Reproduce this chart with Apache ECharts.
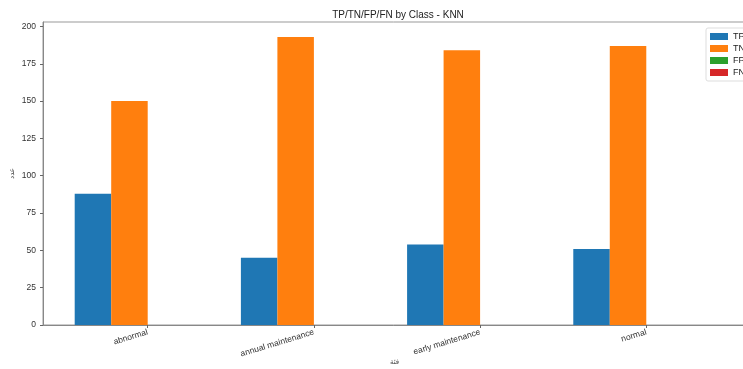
<!DOCTYPE html>
<html><head><meta charset="utf-8">
<script src="https://cdn.jsdelivr.net/npm/echarts@6/dist/echarts.min.js"></script>
<style>html,body{margin:0;padding:0;background:#fff}#c{width:743px;height:369px}</style>
</head><body><div id="c"></div>
<script>
const categories = ['abnormal', 'annual maintenance', 'early maintenance', 'normal'];
const seriesNames = ['TP', 'TN', 'FP', 'FN'];
const tp = [88, 45, 54, 51];
const tn = [150, 193, 184, 187];
const fp = [0, 0, 0, 0];
const fn = [0, 0, 0, 0];
const yTicks = [0, 25, 50, 75, 100, 125, 150, 175, 200];
const colors = ['#1f77b4', '#ff7f0e', '#2ca02c', '#d62728'];
const values = [tp, tn, fp, fn];
const idx = categories.map((_, i) => i);
const font = 'Liberation Sans, Arial, sans-serif';
const chart = echarts.init(document.getElementById('c'));
chart.setOption({
  animation: false,
  title: { text: 'TP/TN/FP/FN by Class - KNN', left: 393, top: 5, textAlign: 'center',
    textStyle: { fontSize: 10, fontWeight: 'normal', color: '#222', fontFamily: font } },
  grid: { left: 43, top: 22, right: -3, bottom: 44, show: true, borderColor: '#999', borderWidth: 1,
    outerBoundsMode: 'none', containLabel: false },
  legend: { orient: 'vertical', left: 706, top: 28, itemWidth: 18, itemHeight: 7, itemGap: 3,
    padding: [4, 20, 4, 4], borderColor: '#ddd', borderWidth: 1, borderRadius: 2, backgroundColor: '#fff',
    icon: 'rect', textStyle: { fontSize: 9, color: '#222', fontFamily: font }, data: seriesNames },
  xAxis: { type: 'value', min: -0.63, max: 3.6, splitLine: { show: false },
    name: 'فئة', nameLocation: 'middle', nameGap: 34, nameMoveOverlap: false,
    nameTextStyle: { fontSize: 7, color: '#444', fontFamily: 'DejaVu Sans' },
    axisLine: { show: true, onZero: false, lineStyle: { color: '#888' } },
    axisTick: { show: true, length: 3, customValues: idx, lineStyle: { color: '#666' } },
    axisLabel: { customValues: idx, rotate: 17, fontSize: 8.5, color: '#333', fontFamily: font, margin: 7,
      formatter: v => categories[Math.round(v)] } },
  yAxis: { type: 'value', min: 0, max: 203, splitLine: { show: false },
    name: 'عدد', nameLocation: 'middle', nameGap: 27, nameMoveOverlap: false,
    nameTextStyle: { fontSize: 7, color: '#444', fontFamily: 'DejaVu Sans' },
    axisLine: { show: true, onZero: false, lineStyle: { color: '#888' } },
    axisTick: { show: true, length: 3, customValues: yTicks, lineStyle: { color: '#666' } },
    axisLabel: { customValues: yTicks, fontSize: 8.5, color: '#333', fontFamily: font, margin: 7 } },
  series: seriesNames.map((n, s) => ({
    name: n, type: 'bar', barWidth: 36.5, barGap: '0%',
    itemStyle: { color: colors[s] },
    data: values[s].map((v, i) => [idx[i], v])
  }))
});
</script></body></html>
